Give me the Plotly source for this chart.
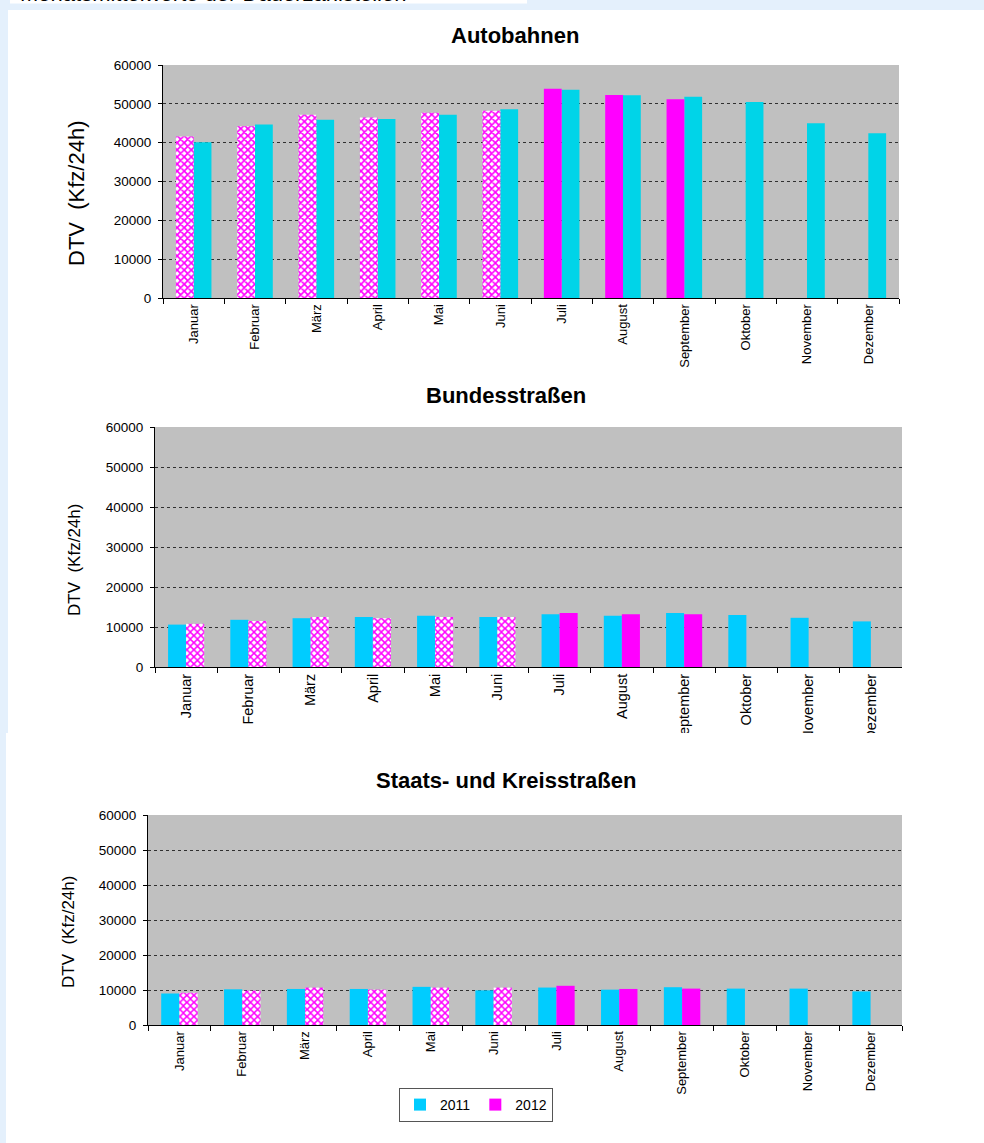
import plotly.graph_objects as go

# ---------------- data ----------------
months = ["Januar", "Februar", "März", "April", "Mai", "Juni",
          "Juli", "August", "September", "Oktober", "November", "Dezember"]

# Autobahnen (DTV Kfz/24h)
ab_2011 = [40100, 44700, 45900, 46100, 47200, 48600, 53600, 52200, 51800, 50500, 45000, 42400]
ab_2012 = [41600, 44200, 47200, 46500, 47700, 48200, 53900, 52300, 51200]

# Bundesstraßen
bs_2011 = [10600, 11800, 12200, 12500, 12800, 12500, 13200, 12800, 13500, 13000, 12300, 11400]
bs_2012 = [10800, 11500, 12500, 12200, 12500, 12500, 13500, 13200, 13200]

# Staats- und Kreisstraßen
sk_2011 = [9000, 10200, 10300, 10300, 10900, 9900, 10700, 10100, 10800, 10400, 10400, 9600]
sk_2012 = [9200, 9800, 10700, 10100, 10700, 10700, 11200, 10300, 10400]

# 2012 months drawn with hatched fill (Jan-Jun) vs. solid (Jul-Sep)
hatched_2012 = [True, True, True, True, True, True, False, False, False]

y_ticks = [0, 10000, 20000, 30000, 40000, 50000, 60000]

titles = ["Autobahnen", "Bundesstraßen", "Staats- und Kreisstraßen"]
y_title = "DTV  (Kfz/24h)"
header = "Monatsmittelwerte der Dauerzählstellen"
legend_names = ["2011", "2012"]

# ---------------- layout helpers ----------------
W, H = 984, 1143
FONT = "Arial, 'Liberation Sans', Helvetica, sans-serif"
MAGENTA = "#FF00FF"


def fx(p):
    return p / W


def fy(p):
    return 1 - p / H


charts = [
    dict(v11=ab_2011, v12=ab_2012, cyan="#00D4E8", left2012=True, solidity=0.55, xfs=13,
         plot=(163, 899, 65, 298), title_xy=(515, 35), ytitle_xy=(76, 194), ytsize=22),
    dict(v11=bs_2011, v12=bs_2012, cyan="#00CCFF", left2012=False, solidity=0.5, xfs=14.5,
         plot=(155, 902, 427, 667), title_xy=(506, 395), ytitle_xy=(74, 560), ytsize=17),
    dict(v11=sk_2011, v12=sk_2012, cyan="#00CCFF", left2012=False, solidity=0.5, xfs=13,
         plot=(148, 902, 815, 1025), title_xy=(506, 780), ytitle_xy=(68, 932), ytsize=17),
]

BAR_W = 0.29

fig = go.Figure()
shapes = [
    # white panels
    dict(type="rect", xref="paper", yref="paper", x0=fx(10), x1=fx(527), y0=fy(3.5), y1=1,
         fillcolor="white", line_width=0, layer="below"),
    dict(type="rect", xref="paper", yref="paper", x0=fx(8), x1=1, y0=fy(733), y1=fy(10),
         fillcolor="white", line_width=0, layer="below"),
    dict(type="rect", xref="paper", yref="paper", x0=fx(6), x1=1, y0=0, y1=fy(733),
         fillcolor="white", line_width=0, layer="below"),
]
annotations = [
    dict(text=header, xref="paper", yref="paper", x=fx(18), y=fy(8.5),
         xanchor="left", yanchor="bottom", showarrow=False,
         font=dict(family=FONT, size=22, color="black")),
]

for i, c in enumerate(charts, start=1):
    suf = "" if i == 1 else str(i)
    xa, ya = "x" + suf, "y" + suf
    x0, x1, y0, y1 = c["plot"]
    off12 = -BAR_W if c["left2012"] else 0.0
    off11 = 0.0 if c["left2012"] else -BAR_W
    show = (i == 3)

    fig.add_trace(go.Bar(
        x=months, y=c["v11"], xaxis=xa, yaxis=ya, name=legend_names[0],
        marker=dict(color=c["cyan"], line=dict(width=0)),
        width=BAR_W, offset=off11, showlegend=show, legendgroup="2011", legendrank=1,
        hoverinfo="x+y"))

    xm_h = [m for m, v, h in zip(months, c["v12"], hatched_2012) if h]
    yv_h = [v for m, v, h in zip(months, c["v12"], hatched_2012) if h]
    xm_s = [m for m, v, h in zip(months, c["v12"], hatched_2012) if not h]
    yv_s = [v for m, v, h in zip(months, c["v12"], hatched_2012) if not h]

    fig.add_trace(go.Bar(
        x=xm_h, y=yv_h, xaxis=xa, yaxis=ya, name=legend_names[1],
        marker=dict(color=MAGENTA, line=dict(width=0),
                    pattern=dict(shape="x", fgcolor=MAGENTA, bgcolor="white",
                                 size=5, solidity=c["solidity"])),
        width=BAR_W, offset=off12, showlegend=False, legendgroup="2012",
        hoverinfo="x+y"))
    fig.add_trace(go.Bar(
        x=xm_s, y=yv_s, xaxis=xa, yaxis=ya, name=legend_names[1],
        marker=dict(color=MAGENTA, line=dict(width=0)),
        width=BAR_W, offset=off12, showlegend=show, legendgroup="2012", legendrank=2,
        hoverinfo="x+y"))

    # grey plot background
    shapes.append(dict(type="rect", xref="paper", yref="paper",
                       x0=fx(x0), x1=fx(x1), y0=fy(y1), y1=fy(y0),
                       fillcolor="#C0C0C0", line_width=0, layer="below"))

    fig.update_layout(**{
        "xaxis" + suf: dict(domain=[fx(x0), fx(x1)], anchor=ya, type="category",
                            categoryorder="array", categoryarray=months,
                            range=[-0.5, 11.5], automargin=False,
                            showline=True, linecolor="black", linewidth=1,
                            ticks="outside", ticklen=5, tickcolor="black", tickwidth=1,
                            tickson="boundaries", tickangle=-90, showgrid=False,
                            zeroline=False,
                            tickfont=dict(family=FONT, size=c["xfs"], color="black"),
                            fixedrange=True),
        "yaxis" + suf: dict(domain=[fy(y1), fy(y0)], anchor=xa,
                            range=[0, 60000], tickvals=y_ticks, automargin=False,
                            ticktext=[str(t) for t in y_ticks],
                            showline=True, linecolor="black", linewidth=1,
                            ticks="outside", ticklen=4, tickcolor="black", tickwidth=1,
                            showgrid=True, gridcolor="#303030", gridwidth=1, griddash="dot",
                            zeroline=False, ticklabelstandoff=4,
                            tickfont=dict(family=FONT, size=13.5, color="black"),
                            fixedrange=True),
    })

    tx, ty = c["title_xy"]
    annotations.append(dict(text="<b>%s</b>" % titles[i - 1], xref="paper", yref="paper",
                            x=fx(tx), y=fy(ty), xanchor="center", yanchor="middle",
                            showarrow=False, font=dict(family=FONT, size=22, color="black")))
    ax, ay = c["ytitle_xy"]
    annotations.append(dict(text=y_title, xref="paper", yref="paper", x=fx(ax), y=fy(ay),
                            xanchor="center", yanchor="middle", textangle=-90,
                            showarrow=False, font=dict(family=FONT, size=c["ytsize"], color="black")))

# white strip clipping the lower Bundesstraßen labels (as in the pasted image)
shapes.append(dict(type="rect", xref="paper", yref="paper", x0=fx(6), x1=1,
                   y0=fy(762), y1=fy(733), fillcolor="white", line_width=0, layer="above"))

fig.update_layout(
    template="none",
    width=W, height=H, autosize=False,
    margin=dict(l=0, r=0, t=0, b=0, pad=0, autoexpand=False),
    paper_bgcolor="#E4F0FC", plot_bgcolor="rgba(0,0,0,0)",
    barmode="overlay",
    shapes=shapes, annotations=annotations,
    font=dict(family=FONT, color="black"),
    showlegend=True,
    legend=dict(orientation="h", x=fx(399), y=fy(1088), xanchor="left", yanchor="top",
                bgcolor="white", bordercolor="#555555", borderwidth=1,
                font=dict(family=FONT, size=14, color="black"),
                itemwidth=30, traceorder="normal", itemclick=False, itemdoubleclick=False),
)

fig.write_html("out.html", config={"displayModeBar": False},
               post_script="document.body.style.margin='0px';document.body.style.overflow='hidden';")
